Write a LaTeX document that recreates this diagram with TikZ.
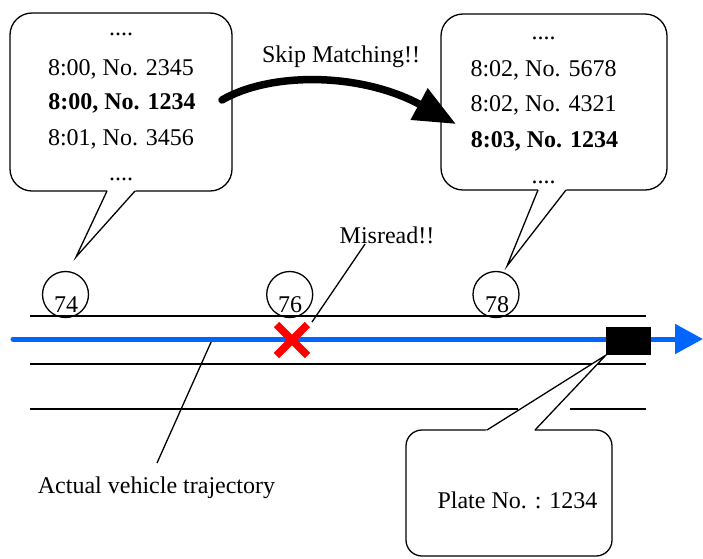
\documentclass[tikz,border=0pt]{standalone}
\usepackage{fontspec}
\setmainfont{Liberation Serif}
\usetikzlibrary{arrows.meta,calc}
\definecolor{trajblue}{RGB}{0,102,255}
\definecolor{xred}{RGB}{255,0,0}
\begin{document}
\begin{tikzpicture}[x=1pt,y=-1pt,
  font=\fontsize{24}{28}\selectfont,
  callbox/.style={draw, line width=1.3pt, fill=white, rounded corners=22pt, inner sep=0pt},
  txt/.style={anchor=base, inner sep=0pt},
  lane/.style={line width=1.6pt},
  sensor/.style={circle, draw, line width=1.3pt, minimum size=46pt, inner sep=0pt},
  leader/.style={line width=1.3pt},
  tailfill/.style={fill=white},
  crossarm/.style={xred, line width=7.5pt},
]
\useasboundingbox (0,0) rectangle (703,558);

% lanes
\coordinate (la1) at (30,316);  \coordinate (la2) at (646,316);
\coordinate (lb1) at (30,364);  \coordinate (lb2) at (646,364);
\coordinate (lc1) at (30,409);  \coordinate (lc2) at (518,409);
\coordinate (lc3) at (570,409); \coordinate (lc4) at (646,409);
\draw[lane] (la1) -- (la2);
\draw[lane] (lb1) -- (lb2);
\draw[lane] (lc1) -- (lc2);
\draw[lane] (lc3) -- (lc4);

% trajectory leader
\node[txt] (traj) at (156.5,493) {Actual vehicle trajectory};
\coordinate (trA) at (157,463);
\coordinate (trB) at (212,340);
\draw[leader] (trA) -- (trB);

% trajectory
\coordinate (tb) at (13,339);
\coordinate (te) at (703,339);
\draw[trajblue, line width=5pt, line cap=round, -{Triangle[length=28pt,width=29pt]}] (tb) -- (te);

% sensors
\node[sensor] (s74) at (65.5,294.5) {};
\node[sensor] (s76) at (289.7,294.5) {};
\node[sensor] (s78) at (496,294.5) {};
\node[txt] (n74) at (66,312.5) {74};
\node[txt] (n76) at (290,312.5) {76};
\node[txt] (n78) at (497,312.5) {78};

% car
\node[fill=black, minimum width=45pt, minimum height=28pt, inner sep=0pt] (car) at (628.5,341) {};

% misread cross
\coordinate (x76) at (292,340);
\draw[crossarm] ($(x76)+(-15.5,-15.5)$) -- ($(x76)+(15.5,15.5)$);
\draw[crossarm] ($(x76)+(-15.5,15.5)$) -- ($(x76)+(15.5,-15.5)$);
\node[txt] (mis) at (387,243) {Misread!!};
\coordinate (misA) at (365,244);
\coordinate (misB) at (312,322);
\draw[leader] (misA) -- (misB);

% left callout
\node[callbox, minimum width=222pt, minimum height=178pt] (L) at (121,102) {};
\coordinate (Lb1) at (107,191);
\coordinate (Lb2) at (135,191);
\coordinate (Lt) at (76,257);
\fill[tailfill] ($(Lt)!1.08!(Lb1)$) -- (Lt) -- ($(Lt)!1.08!(Lb2)$) -- cycle;
\draw[leader] (Lb1) -- (Lt) -- (Lb2);
\node[txt] (l1) at (121,35) {....};
\node[txt] (l2) at (121,75) {8:00, No. 2345};
\node[txt] (l3) at (122,109) {\bfseries 8:00, No. 1234};
\node[txt] (l4) at (121,145) {8:01, No. 3456};
\node[txt] (l5) at (121,180) {....};

% right callout
\node[callbox, minimum width=226pt, minimum height=176pt] (R) at (554,102) {};
\coordinate (Rb1) at (538,190);
\coordinate (Rb2) at (566,190);
\coordinate (Rt) at (507,266);
\fill[tailfill] ($(Rt)!1.08!(Rb1)$) -- (Rt) -- ($(Rt)!1.08!(Rb2)$) -- cycle;
\draw[leader] (Rb1) -- (Rt) -- (Rb2);
\node[txt] (r1) at (543.5,39) {....};
\node[txt] (r2) at (543.5,76) {8:02, No. 5678};
\node[txt] (r3) at (543.5,111) {8:02, No. 4321};
\node[txt] (r4) at (544.5,147) {\bfseries 8:03, No. 1234};
\node[txt] (r5) at (543.5,183) {....};

% plate callout
\node[callbox, rounded corners=16pt, minimum width=206pt, minimum height=126pt] (P) at (509,493) {};
\coordinate (Pb1) at (487,430);
\coordinate (Pb2) at (535,430);
\fill[tailfill] ($(car.south west)!1.08!(Pb1)$) -- (car.south west) -- ($(car.south west)!1.08!(Pb2)$) -- cycle;
\draw[leader] (Pb1) -- (car.south west) -- (Pb2);
\node[txt] (ptxt) at (517.5,508) {Plate No. : 1234};

% skip matching arrow
\node[txt] (skip) at (341,62) {Skip Matching!!};
\coordinate (sa) at (222,100);
\coordinate (sb) at (456,124);
\draw[line width=7.5pt, line cap=round, -{Triangle[length=42pt,width=34pt]}] (sa) .. controls (270,72) and (360,72) .. (sb);
\end{tikzpicture}
\end{document}
